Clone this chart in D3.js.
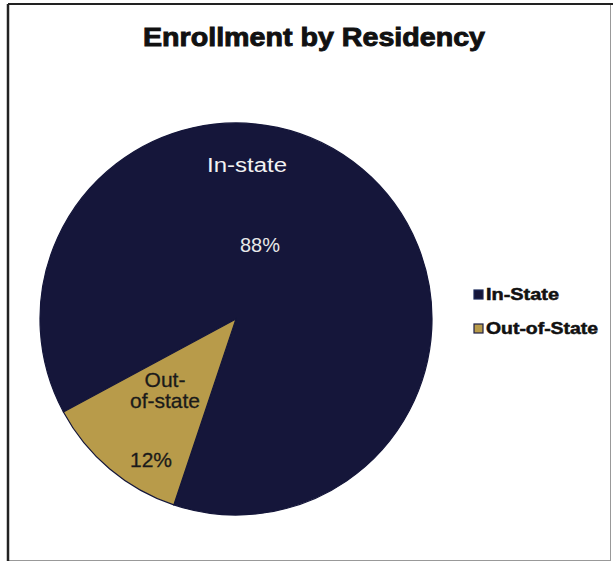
<!DOCTYPE html>
<html>
<head>
<meta charset="utf-8">
<script src="https://cdn.jsdelivr.net/npm/d3@7"></script>
<style>
  body { margin: 0; background: #fff; }
</style>
</head>
<body>
<div id="canvas"></div>
<script>
"use strict"

let svgWidth = 613
let svgHeight = 563

/*Data*/
let categories = ["In-State", "Out-of-State"]
let values = [88, 12]
let sliceLabels = [["In-state"], ["Out-", "of-state"]]
let percentLabels = ["88%", "12%"]

let colors = ["#15163a", "#b89b4a"]

let svg = d3.select("#canvas")
    .append("svg")
    .attr("width", svgWidth)
    .attr("height", svgHeight)

/*frame*/
svg.append("rect")
    .attr("x", 8.5)
    .attr("y", 4.5)
    .attr("width", 602)
    .attr("height", 556)
    .attr("fill", "none")
    .attr("stroke", "#999")
    .attr("stroke-width", 1)
svg.append("line")
    .attr("x1", 8).attr("y1", 4).attr("x2", 8).attr("y2", 561)
    .attr("stroke", "#222").attr("stroke-width", 2.5)
svg.append("line")
    .attr("x1", 8).attr("y1", 4).attr("x2", 613).attr("y2", 4)
    .attr("stroke", "#222").attr("stroke-width", 2)

/*Title - heavier than plain bold, so a thin stroke is added*/
svg.append("text")
    .attr("x", 314)
    .attr("y", 46)
    .attr("text-anchor", "middle")
    .attr("textLength", 342)
    .attr("lengthAdjust", "spacingAndGlyphs")
    .style("font-family", "Liberation Sans, Arial, sans-serif")
    .style("font-weight", "bold")
    .style("font-size", "25px")
    .style("fill", "#111")
    .style("stroke", "#111")
    .style("stroke-width", "0.9px")
    .text("Enrollment by Residency")

/*pie*/
let cx = 236, cy = 319, radius = 196
let startDeg = 241.7
let pie = d3.pie()
    .sort(null)
    .startAngle(startDeg * Math.PI / 180)
    .endAngle((startDeg + 360) * Math.PI / 180)
let arcs = pie(values)
let arc = d3.arc().innerRadius(0).outerRadius(radius)

let g = svg.append("g").attr("transform", `translate(${cx},${cy})`)

g.selectAll("path.slice")
    .data(arcs)
    .join("path")
    .classed("slice", true)
    .attr("d", arc)
    .attr("fill", (d, i) => colors[i])
    .attr("stroke", "#14163a")
    .attr("stroke-width", 1.2)

/*slice labels - In-state*/
g.append("text")
    .attr("x", 247 - cx)
    .attr("y", 172 - cy)
    .attr("text-anchor", "middle")
    .attr("textLength", 80)
    .attr("lengthAdjust", "spacingAndGlyphs")
    .style("font-family", "Liberation Sans, Arial, sans-serif")
    .style("font-size", "20px")
    .style("fill", "#f2f2f2")
    .text(sliceLabels[0][0])

g.append("text")
    .attr("x", 260 - cx)
    .attr("y", 252 - cy)
    .attr("text-anchor", "middle")
    .style("font-family", "Liberation Sans, Arial, sans-serif")
    .style("font-size", "20px")
    .style("fill", "#e8e8e8")
    .text(percentLabels[0])

/*slice labels - Out-of-state*/
let outLines = sliceLabels[1]
for (let i = 0; i < outLines.length; i++) {
    g.append("text")
        .attr("x", 165 - cx)
        .attr("y", 387 + i * 21 - cy)
        .attr("text-anchor", "middle")
        .style("font-family", "Liberation Sans, Arial, sans-serif")
        .style("font-size", "21px")
        .style("fill", "#1a1a1a")
        .style("stroke", "#1a1a1a")
        .style("stroke-width", "0.3px")
        .text(outLines[i])
}
g.append("text")
    .attr("x", 151 - cx)
    .attr("y", 467 - cy)
    .attr("text-anchor", "middle")
    .style("font-family", "Liberation Sans, Arial, sans-serif")
    .style("font-size", "21px")
    .style("fill", "#1a1a1a")
    .style("stroke", "#1a1a1a")
    .style("stroke-width", "0.3px")
    .text(percentLabels[1])

/*legend*/
let legendX = 474, legendY = 290, legendStep = 34
let legendWidths = [73, 112]
for (let i = 0; i < categories.length; i++) {
    svg.append("rect")
        .attr("x", legendX)
        .attr("y", legendY + i * legendStep)
        .attr("width", 9)
        .attr("height", 9)
        .attr("fill", colors[i])
        .attr("stroke", i === 0 ? "#1c2a5a" : "#1d1f45")
        .attr("stroke-width", 1.2)
    svg.append("text")
        .attr("x", legendX + 12)
        .attr("y", legendY + i * legendStep + 10)
        .attr("textLength", legendWidths[i])
        .attr("lengthAdjust", "spacingAndGlyphs")
        .style("font-family", "Liberation Sans, Arial, sans-serif")
        .style("font-weight", "bold")
        .style("font-size", "16px")
        .style("fill", "#111")
        .style("stroke", "#111")
        .style("stroke-width", "0.5px")
        .text(categories[i])
}
</script>
</body>
</html>
